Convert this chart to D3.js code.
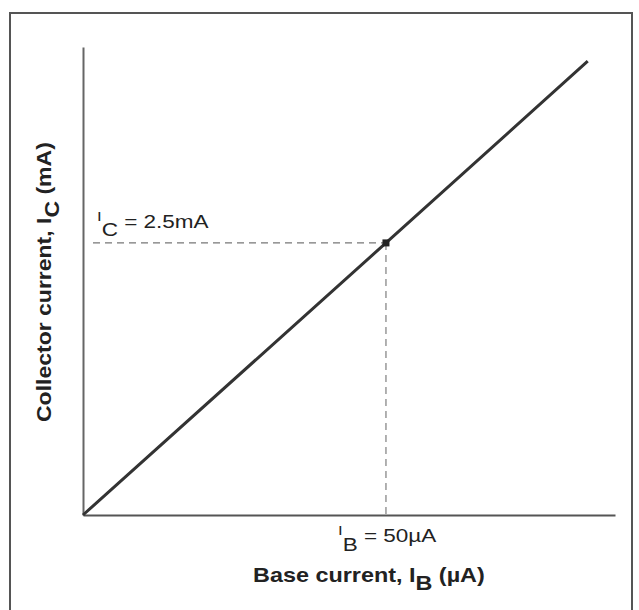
<!DOCTYPE html>
<html>
<head>
<meta charset="utf-8">
<script src="https://cdn.jsdelivr.net/npm/d3@7"></script>
<style>
  html, body { margin: 0; padding: 0; background: #fff; }
  svg { display: block; }
</style>
</head>
<body>
<svg id="chart" width="639" height="610"></svg>
<script>
// ---- data ----
const baseCurrent = [0, 50, 83.3];          // I_B (µA)
const collectorCurrent = [0, 2.5, 4.17];    // I_C (mA)
const markerIB = [50];
const markerIC = [2.5];
const xDomain = [0, 87.8];
const yDomain = [0, 4.3];
const xTitle = ["Base current, I", "B", " (µA)"];
const yTitle = ["Collector current, I", "C", " (mA)"];
const xMarkLabel = ["I", "B", " = 50µA"];
const yMarkLabel = ["I", "C", " = 2.5mA"];

const svg = d3.select("#chart");
const font = "'Liberation Sans', Arial, Helvetica, sans-serif";

// frame
svg.append("rect")
  .attr("x", 10).attr("y", 13).attr("width", 622).attr("height", 620)
  .attr("fill", "none").attr("stroke", "#555").attr("stroke-width", 2);

const x = d3.scaleLinear().domain(xDomain).range([83, 615]);
const y = d3.scaleLinear().domain(yDomain).range([515, 47]);

// axes (no ticks)
svg.append("g").attr("transform", `translate(0,${y(0)})`)
  .call(d3.axisBottom(x).tickValues([]).tickSizeOuter(0))
  .call(g => g.select(".domain").attr("stroke", "#555").attr("stroke-width", 2));
svg.append("g").attr("transform", `translate(${x(0)},0)`)
  .call(d3.axisLeft(y).tickValues([]).tickSizeOuter(0))
  .call(g => g.select(".domain").attr("stroke", "#666").attr("stroke-width", 2));

// dashed guides
const px = x(markerIB[0]), py = y(markerIC[0]);
svg.append("line")
  .attr("x1", x(0) + 10).attr("x2", px).attr("y1", py).attr("y2", py)
  .attr("stroke", "#777").attr("stroke-width", 1.4).attr("stroke-dasharray", "7,5");
svg.append("line")
  .attr("x1", px).attr("x2", px).attr("y1", py).attr("y2", y(0))
  .attr("stroke", "#888").attr("stroke-width", 1.3).attr("stroke-dasharray", "7,5");

// main line
const pts = baseCurrent.map((d, i) => [d, collectorCurrent[i]]);
svg.append("path")
  .datum(pts)
  .attr("d", d3.line().x(d => x(d[0])).y(d => y(d[1])))
  .attr("fill", "none").attr("stroke", "#333").attr("stroke-width", 3);

// marker
svg.selectAll("rect.mk").data(markerIB).join("rect")
  .attr("class", "mk")
  .attr("x", d => x(d) - 3.5).attr("y", (d, i) => y(markerIC[i]) - 3.5)
  .attr("width", 7).attr("height", 7).attr("fill", "#222");

// labels with subscripts (horizontally stretched like the scanned original)
function subLabel(parts, xPos, yBase, size, weight, o) {
  const g = svg.append("g").attr("transform",
    `translate(${xPos},${yBase})` + (o.rotate ? " rotate(-90)" : "") + ` scale(${o.stretch},1)`);
  const t = g.append("text")
    .attr("font-family", font).attr("font-size", size)
    .attr("font-weight", weight).attr("fill", "#222");
  t.append("tspan").text(parts[0]).attr("dy", o.mainUp).attr("font-size", size * o.iScale);
  t.append("tspan").text(parts[1]).attr("dy", o.subDown - o.mainUp);
  t.append("tspan").text(parts[2]).attr("dy", -o.subDown);
}

subLabel(yMarkLabel, 97, 228, 18, "normal", { mainUp: -7, subDown: 8, iScale: 0.75, stretch: 1.25 });
subLabel(xMarkLabel, 338, 542, 18, "normal", { mainUp: -7, subDown: 9, iScale: 0.75, stretch: 1.25 });
subLabel(xTitle, 253, 582, 20, "bold", { mainUp: 0, subDown: 8, iScale: 1, stretch: 1.17 });
subLabel(yTitle, 51, 422, 20, "bold", { rotate: true, mainUp: 0, subDown: 8, iScale: 1, stretch: 1.15 });
</script>
</body>
</html>
